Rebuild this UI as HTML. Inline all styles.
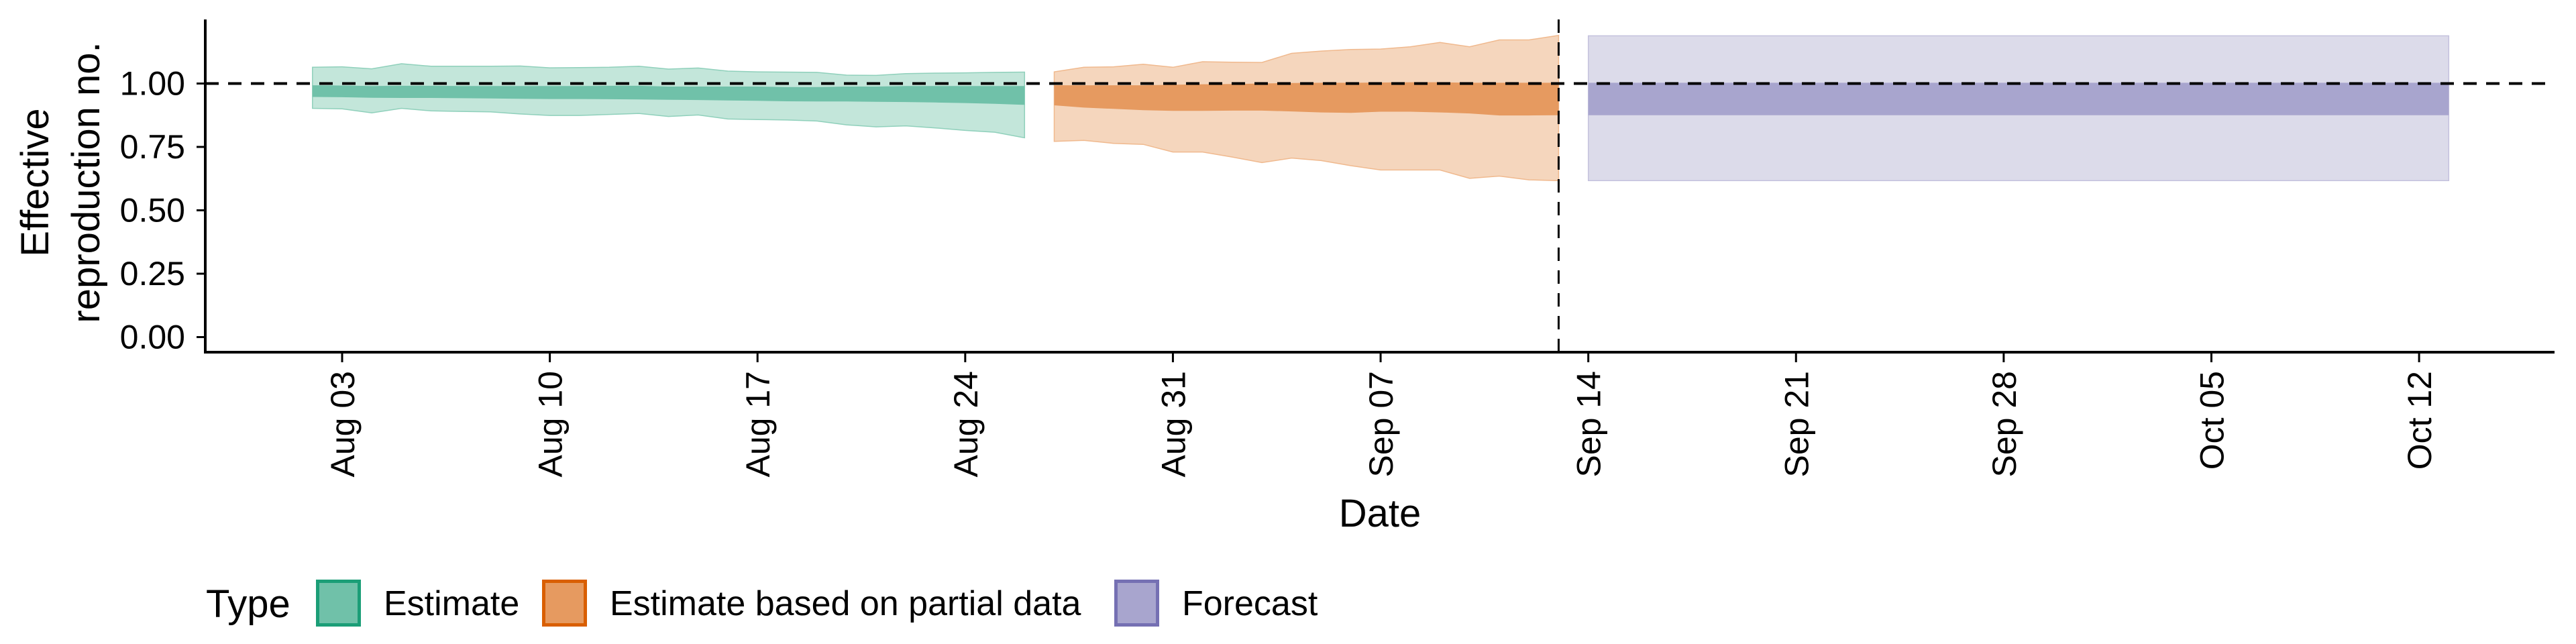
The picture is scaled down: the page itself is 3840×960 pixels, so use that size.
<!DOCTYPE html>
<html><head><meta charset="utf-8"><style>
html,body{margin:0;padding:0;background:#fff}
svg{display:block;font-family:"Liberation Sans",sans-serif}
</style></head><body>
<svg id="chart" width="3840" height="960" viewBox="0 0 3840 960"></svg>
<script>
// ---- data ----
const tickLabels = ["Aug 03","Aug 10","Aug 17","Aug 24","Aug 31","Sep 07","Sep 14","Sep 21","Sep 28","Oct 05","Oct 12"];
const tickDays = [0,7,14,21,28,35,42,49,56,63,70];
const yTicks = [0,0.25,0.5,0.75,1.0];
const yTickLabels = ["0.00","0.25","0.50","0.75","1.00"];
const estStartDay = -1;
const estUpper90 = [1.064,1.066,1.058,1.078,1.068,1.068,1.068,1.069,1.062,1.063,1.064,1.068,1.057,1.061,1.049,1.046,1.045,1.044,1.033,1.032,1.039,1.041,1.042,1.044,1.045];
const estLower90 = [0.902,0.900,0.884,0.902,0.892,0.890,0.888,0.880,0.874,0.874,0.878,0.882,0.870,0.876,0.860,0.858,0.856,0.852,0.837,0.829,0.833,0.825,0.815,0.808,0.786];
const estUpper50 = [0.993,0.992,0.990,0.991,0.991,0.990,0.990,0.990,0.990,0.990,0.991,0.991,0.988,0.988,0.988,0.988,0.986,0.986,0.988,0.988,0.990,0.990,0.990,0.990,0.990];
const estLower50 = [0.947,0.946,0.944,0.943,0.943,0.942,0.941,0.940,0.939,0.939,0.938,0.937,0.936,0.935,0.933,0.932,0.930,0.929,0.929,0.928,0.927,0.925,0.923,0.920,0.916];
const partStartDay = 24;
const partUpper90 = [1.046,1.064,1.066,1.076,1.064,1.086,1.084,1.083,1.119,1.128,1.134,1.136,1.145,1.162,1.145,1.172,1.172,1.190];
const partLower90 = [0.772,0.776,0.764,0.760,0.730,0.730,0.710,0.688,0.706,0.696,0.676,0.659,0.659,0.659,0.626,0.635,0.620,0.617];
const partUpper50 = [0.993,0.993,0.993,0.993,0.995,0.997,0.998,1.000,1.002,1.003,1.003,1.004,1.005,1.005,1.003,1.003,1.003,1.003];
const partLower50 = [0.914,0.905,0.900,0.895,0.892,0.892,0.893,0.893,0.890,0.886,0.884,0.889,0.889,0.886,0.882,0.874,0.874,0.875];
const fcDays = [42,71];
const fcUpper90 = [1.188,1.188];
const fcLower90 = [0.617,0.617];
const fcUpper50 = [1.003,1.003];
const fcLower50 = [0.875,0.875];
const vlineDay = 41;
const refValue = 1.0;

// ---- scales ----
const X0=510, DAY=44.23, Y0=502.5, YS=378;
const xs = d => X0 + d*DAY;
const ys = v => Y0 - v*YS;
const svg = document.getElementById('chart');
const NS='http://www.w3.org/2000/svg';
function mk(tag, attrs, parent){const e=document.createElementNS(NS,tag);for(const k in attrs)e.setAttribute(k,attrs[k]);(parent||svg).appendChild(e);return e;}

function bandDays(days, up, lo, fill, stroke, name){
  const pts=[];
  up.forEach((v,i)=>pts.push(xs(days[i]).toFixed(1)+','+ys(v).toFixed(1)));
  for(let i=lo.length-1;i>=0;i--)pts.push(xs(days[i]).toFixed(1)+','+ys(lo[i]).toFixed(1));
  const p=mk('polygon',{points:pts.join(' '),fill:fill,stroke:stroke,'stroke-width':stroke==='none'?0:1.5});
  
  
}
function seqDays(start,n){const a=[];for(let i=0;i<n;i++)a.push(start+i);return a;}
bandDays(seqDays(estStartDay,estUpper90.length), estUpper90, estLower90, '#c3e6da', '#8fd0bb', 'estimate-band-90');
bandDays(seqDays(estStartDay,estUpper50.length), estUpper50, estLower50, '#70c1a9', 'none', 'estimate-band-50');
bandDays(seqDays(partStartDay,partUpper90.length), partUpper90, partLower90, '#f5d6bd', '#f0b98e', 'partial-band-90');
bandDays(seqDays(partStartDay,partUpper50.length), partUpper50, partLower50, '#e69a60', 'none', 'partial-band-50');
bandDays(fcDays, fcUpper90, fcLower90, '#dcdbea', '#c4c1dd', 'forecast-band-90');
bandDays(fcDays, fcUpper50, fcLower50, '#a8a5ce', 'none', 'forecast-band-50');
// reference line
const hl=mk('line',{x1:306,x2:3808,y1:ys(refValue),y2:ys(refValue),stroke:'#000','stroke-width':4,'stroke-dasharray':'20 14'});


const vl=mk('line',{x1:xs(vlineDay),x2:xs(vlineDay),y1:29,y2:525,stroke:'#000','stroke-width':3,'stroke-dasharray':'20 14'});


// axes
const ya=mk('line',{x1:306,x2:306,y1:29,y2:527,stroke:'#000','stroke-width':4});


const xa=mk('line',{x1:304,x2:3808,y1:525,y2:525,stroke:'#000','stroke-width':4});


yTicks.forEach((v,i)=>{
  mk('line',{x1:293,x2:306,y1:ys(v),y2:ys(v),stroke:'#000','stroke-width':3});
  const t=mk('text',{x:276,y:ys(v)+17,'text-anchor':'end','font-size':50,fill:'#000'});
  t.textContent=yTickLabels[i];
  
  
});
tickDays.forEach((d,i)=>{
  const x=xs(d);
  mk('line',{x1:x,x2:x,y1:525,y2:540,stroke:'#000','stroke-width':3});
  const t=mk('text',{x:0,y:0,'text-anchor':'end','font-size':50,fill:'#000',transform:`translate(${x+18},${553}) rotate(-90)`});
  t.textContent=tickLabels[i];
  
  
});
// titles
const xt=mk('text',{x:2057,y:785,'text-anchor':'middle','font-size':58,fill:'#000'});
xt.textContent='Date';


const yt=mk('text',{'text-anchor':'middle','font-size':58,fill:'#000',transform:'translate(0,272) rotate(-90)'});


const s1=mk('tspan',{x:0,y:72},yt); s1.textContent='Effective';
const s2=mk('tspan',{x:0,y:148},yt); s2.textContent='reproduction no.';
// legend
const lg=mk('g',{});


const lt=mk('text',{x:307,y:920,'font-size':58,fill:'#000'},lg);
lt.textContent='Type';


const legendLabels=['Estimate','Estimate based on partial data','Forecast'];
const legendKeyX=[471,808,1661];
const legendFill=['#70c1a9','#e69a60','#a8a5ce'];
const legendStroke=['#1b9e77','#d95f02','#7570b3'];
legendLabels.forEach((l,i)=>{
  const r=mk('rect',{x:legendKeyX[i]+2.5,y:866.5,width:62,height:65,fill:legendFill[i],stroke:legendStroke[i],'stroke-width':5},lg);
  
  
  const t=mk('text',{x:legendKeyX[i]+101,y:917,'font-size':52,fill:'#000'},lg);
  t.textContent=l;
  
  
});
</script>
</body></html>
